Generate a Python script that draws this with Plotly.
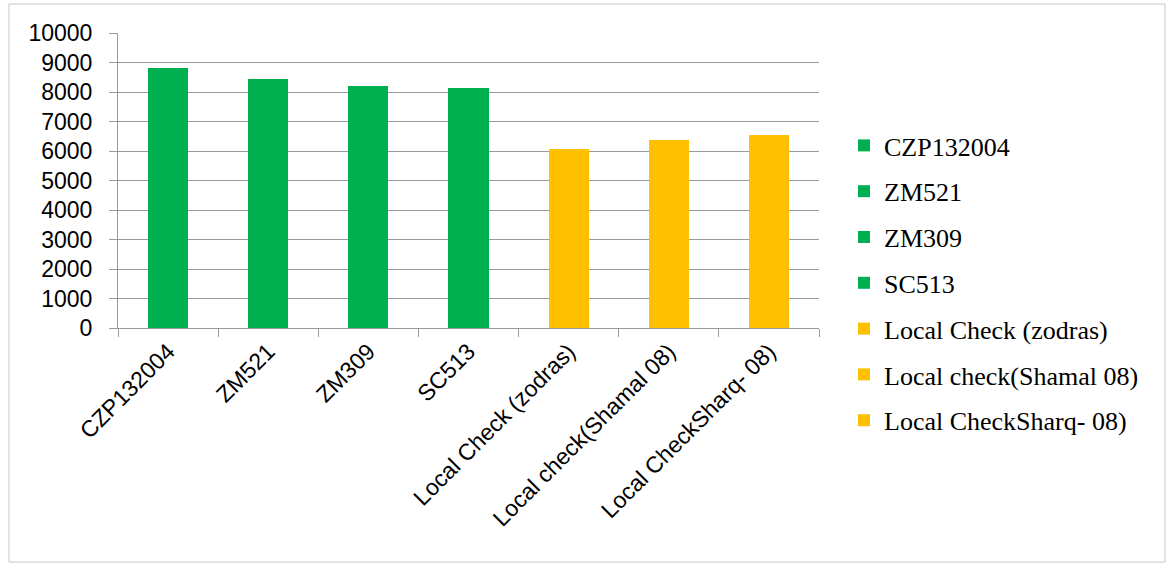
import plotly.graph_objects as go

categories = ["CZP132004", "ZM521", "ZM309", "SC513",
              "Local Check (zodras)", "Local check(Shamal 08)", "Local CheckSharq- 08)"]
values = [8830, 8455, 8215, 8150, 6075, 6385, 6555]
bar_colors = ["#00B050", "#00B050", "#00B050", "#00B050", "#FFC000", "#FFC000", "#FFC000"]
y_ticks = list(range(0, 10001, 1000))

W, H = 1171, 563
L, R, T, B = 118, 352, 33, 235
pw, ph = W - L - R, H - T - B

fig = go.Figure()
for i, (c, v, col) in enumerate(zip(categories, values, bar_colors)):
    fig.add_trace(go.Bar(x=[c], y=[v], name=c, marker=dict(color=col, line=dict(width=0)),
                         legendgroup=f"g{i}", hoverinfo="x+y"))

def px_x(p):
    return (p - L) / pw

def px_y(p):
    return (H - B - p) / ph

fig.update_layout(
    width=W, height=H,
    margin=dict(l=L, r=R, t=T, b=B),
    paper_bgcolor="white", plot_bgcolor="white",
    barmode="stack", bargap=0.6,
    showlegend=True,
    legend=dict(
        x=px_x(844), y=px_y(122), xanchor="left", yanchor="top",
        font=dict(family="Liberation Serif, Times New Roman, serif", size=26, color="black"),
        tracegroupgap=9, traceorder="grouped", maxheight=450,
        bgcolor="rgba(0,0,0,0)",
    ),
    xaxis=dict(
        categoryorder="array", categoryarray=categories,
        showline=True, linecolor="#9a9a9a", linewidth=1,
        ticks="outside", tickson="boundaries", ticklen=8, tickcolor="#9a9a9a",
        tickangle=-45,
        tickfont=dict(family="Liberation Sans, Arial, sans-serif", size=23, color="black"),
        showgrid=False,
    ),
    yaxis=dict(
        range=[0, 10000], tickvals=y_ticks, ticktext=[str(t) for t in y_ticks],
        showline=True, linecolor="#9a9a9a", linewidth=1,
        ticks="outside", ticklen=8, tickcolor="#9a9a9a",
        showgrid=True, gridcolor="#9a9a9a", gridwidth=1,
        zeroline=False, ticklabelstandoff=12,
        tickfont=dict(family="Liberation Sans, Arial, sans-serif", size=23, color="black"),
    ),
    shapes=[dict(type="rect", xref="paper", yref="paper",
                 x0=px_x(9), x1=px_x(1165), y0=px_y(562), y1=px_y(4),
                 line=dict(color="#c8c8c8", width=1), fillcolor="rgba(0,0,0,0)", layer="below")],
)

fig.write_html("out.html")
